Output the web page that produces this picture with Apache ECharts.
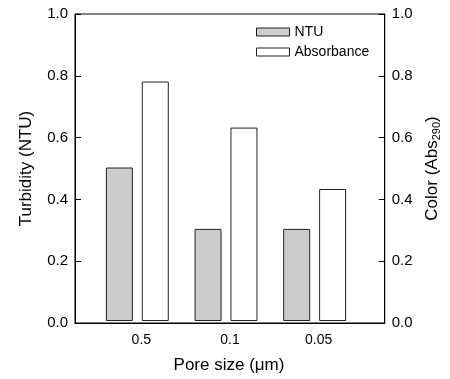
<!DOCTYPE html>
<html><head><meta charset="utf-8">
<script src="https://cdn.jsdelivr.net/npm/echarts@6/dist/echarts.min.js"></script>
<style>html,body{margin:0;padding:0;background:#fff}#c{width:450px;height:379px}</style>
</head><body><div id="c"></div>
<script>
const categories = ['0.5', '0.1', '0.05'];
const ntu = [0.5, 0.3, 0.3];
const absorbance = [0.78, 0.63, 0.43];
const yTicks = [0, 0.2, 0.4, 0.6, 0.8, 1.0];

const font = 'Liberation Sans, Arial, sans-serif';
const chart = echarts.init(document.getElementById('c'));
chart.setOption({
  animation: false,
  backgroundColor: '#fff',
  textStyle: { fontFamily: font, color: '#000' },
  grid: [
    { left: 75, right: 64, top: 14, bottom: 56, show: true, borderColor: '#000', borderWidth: 1, containLabel: false },
    { left: 93, width: 266, top: 14, bottom: 56, containLabel: false }
  ],
  legend: {
    orient: 'vertical', left: 256, top: 25, itemWidth: 33, itemHeight: 8, itemGap: 6, itemTextGap: 9,
    icon: 'rect', itemStyle: { borderWidth: 1, borderColor: '#222' },
    textStyle: { fontSize: 14, color: '#000', fontFamily: font }, padding: 0,
    data: ['NTU', 'Absorbance']
  },
  xAxis: [
    { type: 'value', gridIndex: 0, min: 0, max: 1, show: true,
      axisLine: { show: true, lineStyle: { color: '#000', width: 1 } },
      axisTick: { show: false }, axisLabel: { show: false }, splitLine: { show: false } },
    { type: 'category', gridIndex: 1, data: categories,
      axisLine: { show: false }, axisTick: { show: false },
      axisLabel: { fontSize: 14, color: '#000', margin: 12, padding: [0, 0, 0, 8], fontFamily: font },
      name: 'Pore size (\u03bcm)', nameLocation: 'middle', nameGap: 36,
      nameTextStyle: { fontSize: 17, color: '#000', fontFamily: font, padding: [0, 0, 0, 6] } }
  ],
  yAxis: [
    { type: 'value', gridIndex: 0, position: 'left', min: 0, max: 1, interval: 0.2,
      axisLine: { show: true, lineStyle: { color: '#000', width: 1 } },
      axisTick: { show: true, inside: true, length: 6, lineStyle: { color: '#000' } },
      axisLabel: { fontSize: 15, color: '#000', margin: 7, fontFamily: font, formatter: v => v.toFixed(1) },
      splitLine: { show: false },
      name: 'Turbidity (NTU)', nameLocation: 'middle', nameGap: 40, nameRotate: 90,
      nameTextStyle: { fontSize: 17, color: '#000', fontFamily: font } },
    { type: 'value', gridIndex: 0, position: 'right', min: 0, max: 1, interval: 0.2,
      axisLine: { show: true, lineStyle: { color: '#000', width: 1 } },
      axisTick: { show: true, inside: true, length: 6, lineStyle: { color: '#000' } },
      axisLabel: { fontSize: 15, color: '#000', margin: 7, fontFamily: font, formatter: v => v.toFixed(1) },
      splitLine: { show: false },
      name: '{n|Color (Abs}{s|290}{n|)}', nameLocation: 'middle', nameGap: 36, nameRotate: 90,
      nameTextStyle: { fontSize: 17, color: '#000', fontFamily: font,
        rich: { n: { fontSize: 17, fontFamily: font, color: '#000' },
                s: { fontSize: 11, fontFamily: font, color: '#000', verticalAlign: 'bottom', padding: [9, 0, 0, 0] } } } },
    { type: 'value', gridIndex: 1, min: 0, max: 1, show: false }
  ],
  series: [
    { name: 'NTU', type: 'bar', xAxisIndex: 1, yAxisIndex: 2, data: ntu, barWidth: 27, barGap: '33%',
      itemStyle: { color: '#cccccc', borderColor: '#222', borderWidth: 1 } },
    { name: 'Absorbance', type: 'bar', xAxisIndex: 1, yAxisIndex: 2, data: absorbance, barWidth: 27, barGap: '33%',
      itemStyle: { color: '#ffffff', borderColor: '#222', borderWidth: 1 } }
  ]
});
</script></body></html>
